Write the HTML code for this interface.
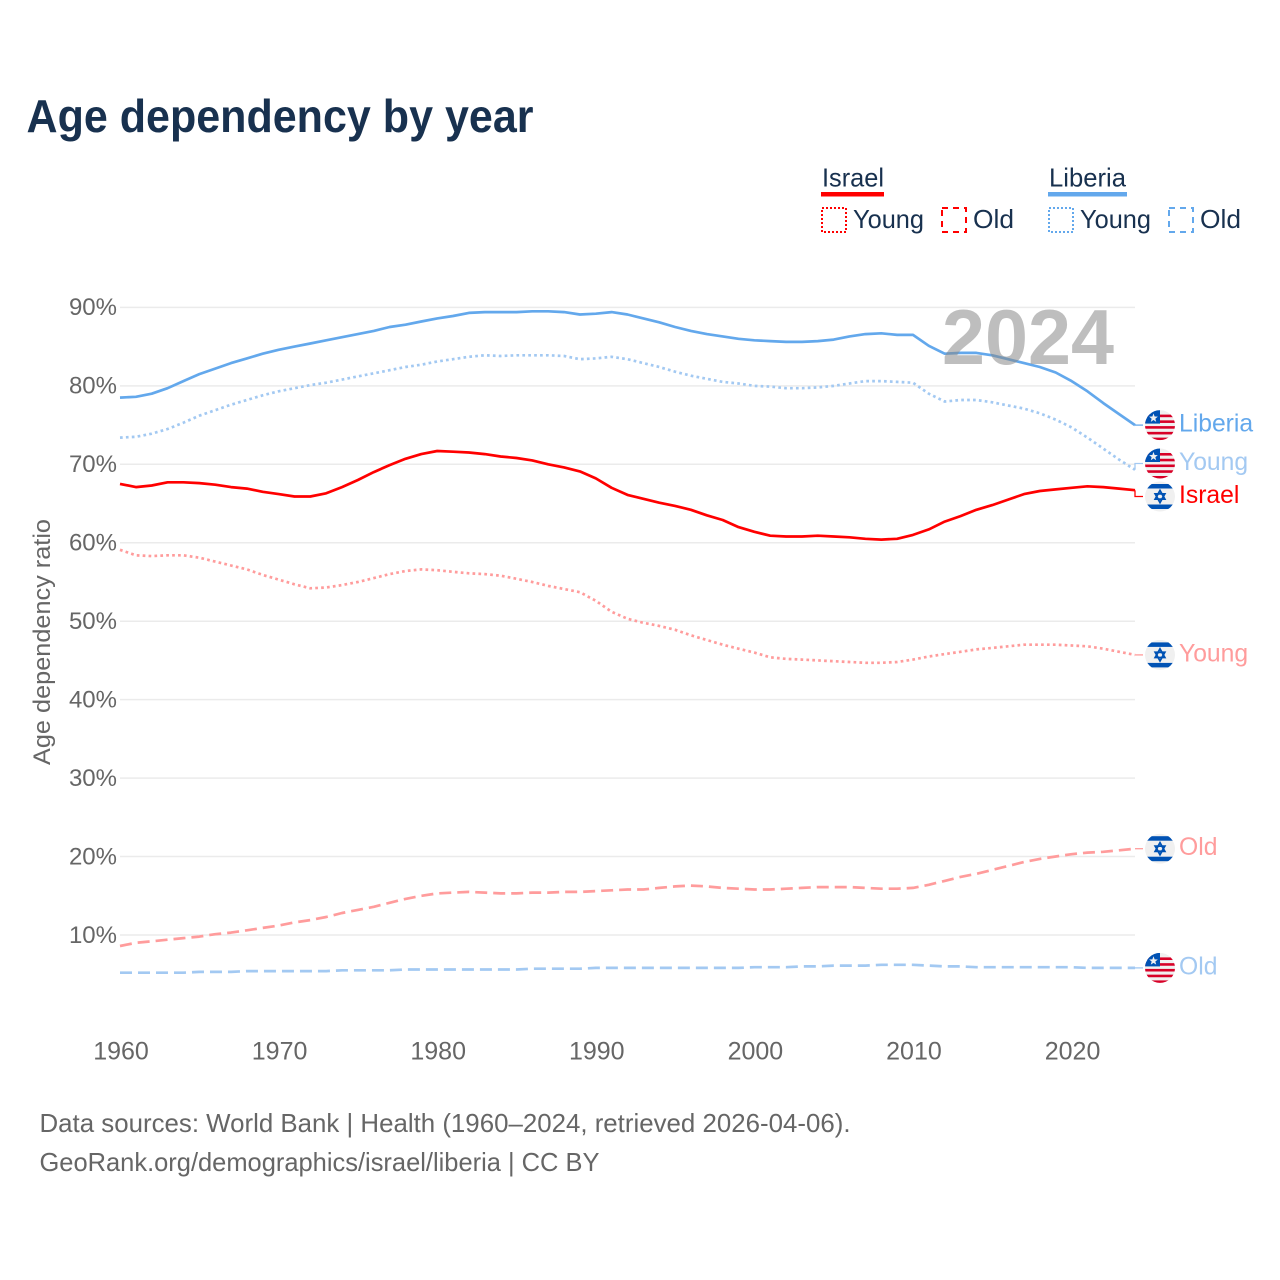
<!DOCTYPE html>
<html lang="en">
<head>
<meta charset="utf-8">
<title>Age dependency by year</title>
<style>
html,body{margin:0;padding:0;background:#fff;width:1280px;height:1280px;overflow:hidden}
svg{display:block}
text{font-family:"Liberation Sans",sans-serif}
</style>
</head>
<body>
<svg id="chart" xmlns="http://www.w3.org/2000/svg" width="1280" height="1280" viewBox="0 0 1280 1280">
<defs><clipPath id="flag-clip"><circle cx="0" cy="0" r="15"/></clipPath></defs>
<text x="26.5" y="132" font-size="46" font-weight="700" fill="#18314f" textLength="507" lengthAdjust="spacingAndGlyphs">Age dependency by year</text>
<g>
<g>
<text x="822" y="186.5" font-size="26" fill="#18314f" textLength="62" lengthAdjust="spacingAndGlyphs">Israel</text>
<rect x="821" y="192" width="63" height="4.5" fill="#ff0000"/>
<rect x="822" y="208" width="24" height="24" fill="none" stroke="#ff0000" stroke-width="2" stroke-dasharray="2 2"/>
<text x="853" y="228" font-size="26" fill="#18314f" textLength="71" lengthAdjust="spacingAndGlyphs">Young</text>
<rect x="942" y="208" width="24" height="24" fill="none" stroke="#ff0000" stroke-width="2" stroke-dasharray="6 5"/>
<text x="973" y="228" font-size="26" fill="#18314f" textLength="41" lengthAdjust="spacingAndGlyphs">Old</text>
</g>
<g>
<text x="1049" y="186.5" font-size="26" fill="#18314f" textLength="77" lengthAdjust="spacingAndGlyphs">Liberia</text>
<rect x="1048" y="192" width="79" height="4.5" fill="#63a8ec"/>
<rect x="1049" y="208" width="24" height="24" fill="none" stroke="#63a8ec" stroke-width="2" stroke-dasharray="2 2"/>
<text x="1080" y="228" font-size="26" fill="#18314f" textLength="71" lengthAdjust="spacingAndGlyphs">Young</text>
<rect x="1169" y="208" width="24" height="24" fill="none" stroke="#63a8ec" stroke-width="2" stroke-dasharray="6 5"/>
<text x="1200" y="228" font-size="26" fill="#18314f" textLength="41" lengthAdjust="spacingAndGlyphs">Old</text>
</g>
</g>
<g id="grid"></g>
<g id="yticks"></g>
<g id="xticks"></g>
<text transform="translate(50,642) rotate(-90)" text-anchor="middle" font-size="24" fill="#666666" textLength="246" lengthAdjust="spacingAndGlyphs">Age dependency ratio</text>
<g id="lines"></g>
<text x="942" y="364" font-size="78" font-weight="700" fill="#888888" fill-opacity="0.55" textLength="172" lengthAdjust="spacingAndGlyphs">2024</text>
<g id="ends"></g>
<text x="39.5" y="1132" font-size="26" fill="#666666" textLength="811" lengthAdjust="spacingAndGlyphs">Data sources: World Bank | Health (1960–2024, retrieved 2026-04-06).</text>
<text x="39.5" y="1171" font-size="26" fill="#666666" textLength="560" lengthAdjust="spacingAndGlyphs">GeoRank.org/demographics/israel/liberia | CC BY</text>
</svg>
<script>
const years = [1960,1961,1962,1963,1964,1965,1966,1967,1968,1969,1970,1971,1972,1973,1974,1975,1976,1977,1978,1979,1980,1981,1982,1983,1984,1985,1986,1987,1988,1989,1990,1991,1992,1993,1994,1995,1996,1997,1998,1999,2000,2001,2002,2003,2004,2005,2006,2007,2008,2009,2010,2011,2012,2013,2014,2015,2016,2017,2018,2019,2020,2021,2022,2023,2024];
const liberiaTotal = [78.5,78.6,79.0,79.7,80.6,81.5,82.2,82.9,83.5,84.1,84.6,85.0,85.4,85.8,86.2,86.6,87.0,87.5,87.8,88.2,88.6,88.9,89.3,89.4,89.4,89.4,89.5,89.5,89.4,89.1,89.2,89.4,89.1,88.6,88.1,87.5,87.0,86.6,86.3,86.0,85.8,85.7,85.6,85.6,85.7,85.9,86.3,86.6,86.7,86.5,86.5,85.1,84.1,84.2,84.2,83.9,83.4,82.9,82.4,81.7,80.6,79.3,77.8,76.4,75.0];
const liberiaYoung = [73.4,73.5,73.9,74.5,75.3,76.2,76.9,77.6,78.2,78.8,79.3,79.7,80.1,80.4,80.8,81.2,81.6,82.0,82.4,82.7,83.1,83.4,83.7,83.9,83.8,83.9,83.9,83.9,83.8,83.4,83.5,83.7,83.4,82.9,82.4,81.8,81.3,80.9,80.5,80.3,80.0,79.9,79.7,79.7,79.8,80.0,80.3,80.6,80.6,80.5,80.4,79.0,78.0,78.2,78.2,77.9,77.5,77.1,76.5,75.7,74.7,73.4,72.0,70.6,69.3];
const liberiaOld = [5.2,5.2,5.2,5.2,5.2,5.3,5.3,5.3,5.4,5.4,5.4,5.4,5.4,5.4,5.5,5.5,5.5,5.5,5.6,5.6,5.6,5.6,5.6,5.6,5.6,5.6,5.7,5.7,5.7,5.7,5.8,5.8,5.8,5.8,5.8,5.8,5.8,5.8,5.8,5.8,5.9,5.9,5.9,6.0,6.0,6.1,6.1,6.1,6.2,6.2,6.2,6.1,6.0,6.0,5.9,5.9,5.9,5.9,5.9,5.9,5.9,5.8,5.8,5.8,5.8];
const israelTotal = [67.5,67.1,67.3,67.7,67.7,67.6,67.4,67.1,66.9,66.5,66.2,65.9,65.9,66.3,67.1,68.0,69.0,69.9,70.7,71.3,71.7,71.6,71.5,71.3,71.0,70.8,70.5,70.0,69.6,69.1,68.2,67.0,66.1,65.6,65.1,64.7,64.2,63.5,62.9,62.0,61.4,60.9,60.8,60.8,60.9,60.8,60.7,60.5,60.4,60.5,61.0,61.7,62.7,63.4,64.2,64.8,65.5,66.2,66.6,66.8,67.0,67.2,67.1,66.9,66.7];
const israelYoung = [59.1,58.4,58.3,58.4,58.4,58.1,57.6,57.1,56.6,55.9,55.3,54.7,54.2,54.3,54.6,55.0,55.5,56.0,56.4,56.6,56.5,56.3,56.1,56.0,55.8,55.4,55.0,54.5,54.1,53.7,52.6,51.2,50.3,49.8,49.4,48.9,48.2,47.6,47.0,46.5,46.0,45.4,45.2,45.1,45.0,44.9,44.8,44.7,44.7,44.8,45.1,45.5,45.8,46.1,46.4,46.6,46.8,47.0,47.0,47.0,46.9,46.8,46.5,46.1,45.7];
const israelOld = [8.6,9.0,9.2,9.4,9.6,9.8,10.1,10.3,10.6,10.9,11.2,11.6,11.9,12.3,12.8,13.2,13.6,14.1,14.6,15.0,15.3,15.4,15.5,15.4,15.3,15.3,15.4,15.4,15.5,15.5,15.6,15.7,15.8,15.8,16.0,16.2,16.3,16.2,16.0,15.9,15.8,15.8,15.9,16.0,16.1,16.1,16.1,16.0,15.9,15.9,16.0,16.4,16.9,17.4,17.8,18.3,18.8,19.3,19.7,20.0,20.3,20.5,20.6,20.8,21.0];
const yTickValues = [10,20,30,40,50,60,70,80,90];
const yTickLabels = ["10%","20%","30%","40%","50%","60%","70%","80%","90%"];
const xTickValues = [1960,1970,1980,1990,2000,2010,2020];
const xTickLabels = ["1960","1970","1980","1990","2000","2010","2020"];

const SVGNS = 'http://www.w3.org/2000/svg';
const X0 = 120, X1 = 1135, YEAR0 = 1960, YEAR1 = 2024;
const Y10 = 935, PX_PER_UNIT = 7.845;
function xScale(year){ return X0 + (year - YEAR0) * (X1 - X0) / (YEAR1 - YEAR0); }
function yScale(v){ return Y10 - (v - 10) * PX_PER_UNIT; }
function make(tag, parent, attrs){
  const el = document.createElementNS(SVGNS, tag);
  for (const k in attrs) el.setAttribute(k, attrs[k]);
  parent.appendChild(el);
  return el;
}
const gridG = document.getElementById('grid');
const yG = document.getElementById('yticks');
const xG = document.getElementById('xticks');
const linesG = document.getElementById('lines');
const endsG = document.getElementById('ends');

yTickValues.forEach(function(v, i){
  const line = make('line', gridG, {x1:X0, x2:X1, y1:yScale(v), y2:yScale(v), stroke:'#ebebeb', 'stroke-width':1.5});
  
  
  const t = make('text', yG, {x:117, y:yScale(v)+7.8, 'text-anchor':'end', 'font-size':24, fill:'#666666'});
  
  
  t.textContent = yTickLabels[i];
});
xTickValues.forEach(function(v, i){
  const t = make('text', xG, {x:xScale(v)+1, y:1059.5, 'text-anchor':'middle', 'font-size':25, fill:'#666666'});
  
  
  t.textContent = xTickLabels[i];
});

const seriesList = [
  {key:'liberia-total', values:liberiaTotal, label:'Liberia', flag:'liberia', color:'#63a8ec', text:'#63a8ec', dash:null},
  {key:'liberia-young', values:liberiaYoung, label:'Young', flag:'liberia', color:'#a3c9f2', text:'#a3c9f2', dash:'2.7 3.2'},
  {key:'israel-total', values:israelTotal, label:'Israel', flag:'israel', color:'#ff0000', text:'#ff0000', dash:null},
  {key:'israel-young', values:israelYoung, label:'Young', flag:'israel', color:'#ff9c9c', text:'#ff9c9c', dash:'2.7 3.2'},
  {key:'israel-old', values:israelOld, label:'Old', flag:'israel', color:'#ff9c9c', text:'#ff9c9c', dash:'12 6'},
  {key:'liberia-old', values:liberiaOld, label:'Old', flag:'liberia', color:'#a3c9f2', text:'#a3c9f2', dash:'12 6'}
];

seriesList.forEach(function(s){
  const pts = s.values.map(function(v, i){ return xScale(years[i]).toFixed(1) + ',' + yScale(v).toFixed(1); }).join(' ');
  const attrs = {points:pts, fill:'none', stroke:s.color, 'stroke-width':2.7, 'stroke-linejoin':'round'};
  if (s.dash) attrs['stroke-dasharray'] = s.dash;
  const pl = make('polyline', linesG, attrs);
  
  
});

/* end-label placement: nudge overlapping labels apart around their mean */
function dodge(items, gap){
  const sorted = items.slice().sort(function(a, b){ return a.y0 - b.y0; });
  let clusters = sorted.map(function(it){ return {items:[it], sum:it.y0}; });
  let merged = true;
  while (merged){
    merged = false;
    for (let i = 0; i < clusters.length - 1; i++){
      const a = clusters[i], b = clusters[i+1];
      const aC = a.sum / a.items.length, bC = b.sum / b.items.length;
      const aEnd = aC + (a.items.length - 1) * gap / 2;
      const bStart = bC - (b.items.length - 1) * gap / 2;
      if (bStart - aEnd < gap){
        clusters.splice(i, 2, {items:a.items.concat(b.items), sum:a.sum + b.sum});
        merged = true;
        break;
      }
    }
  }
  clusters.forEach(function(c){
    const mid = c.sum / c.items.length;
    c.items.forEach(function(it, i){ it.y = mid + (i - (c.items.length - 1) / 2) * gap; });
  });
}

function star(g, cx, cy, r, fill){
  let p = [];
  for (let i = 0; i < 10; i++){
    const a = -Math.PI / 2 + i * Math.PI / 5, rr = i % 2 ? r * 0.42 : r;
    p.push((cx + rr * Math.cos(a)).toFixed(2) + ',' + (cy + rr * Math.sin(a)).toFixed(2));
  }
  make('polygon', g, {points:p.join(' '), fill:fill});
}
function drawFlag(kind, cy){
  const outer = make('g', endsG, {transform:'translate(1160,' + cy.toFixed(1) + ')'});
  
  
  const g = make('g', outer, {'clip-path':'url(#flag-clip)'});
  make('rect', g, {x:-15, y:-15, width:30, height:30, fill:'#f0f0f0'});
  if (kind === 'liberia'){
    for (let i = 0; i < 5; i++){
      make('rect', g, {x:-15, y:-10.5 + i * 5.75, width:30, height:2.6, fill:'#d80027'});
    }
    make('rect', g, {x:-15, y:-15, width:15, height:13.5, fill:'#0052b4'});
    star(g, -6.5, -7, 4.6, '#f0f0f0');
  } else {
    make('rect', g, {x:-15, y:-12.5, width:30, height:4.5, fill:'#0052b4'});
    make('rect', g, {x:-15, y:8, width:30, height:4.5, fill:'#0052b4'});
    make('polygon', g, {points:'0,-6 4.8,2.6 -4.8,2.6', fill:'none', stroke:'#0052b4', 'stroke-width':1.8});
    make('polygon', g, {points:'0,6 4.8,-2.6 -4.8,-2.6', fill:'none', stroke:'#0052b4', 'stroke-width':1.8});
  }
}

const endItems = seriesList.map(function(s){
  return {s:s, y0:yScale(s.values[s.values.length - 1]), y:0};
});
dodge(endItems, 33);
endItems.forEach(function(it){
  const s = it.s;
  const conn = make('path', endsG, {d:'M' + X1 + ' ' + it.y0.toFixed(1) + 'V' + it.y.toFixed(1) + 'H1143', fill:'none', stroke:s.color, 'stroke-width':1.3});
  
  
  drawFlag(s.flag, it.y);
  const t = make('text', endsG, {x:1179, y:it.y + 6.5, 'font-size':24.7, fill:s.text});
  
  
  t.textContent = s.label;
});
</script>
</body>
</html>
